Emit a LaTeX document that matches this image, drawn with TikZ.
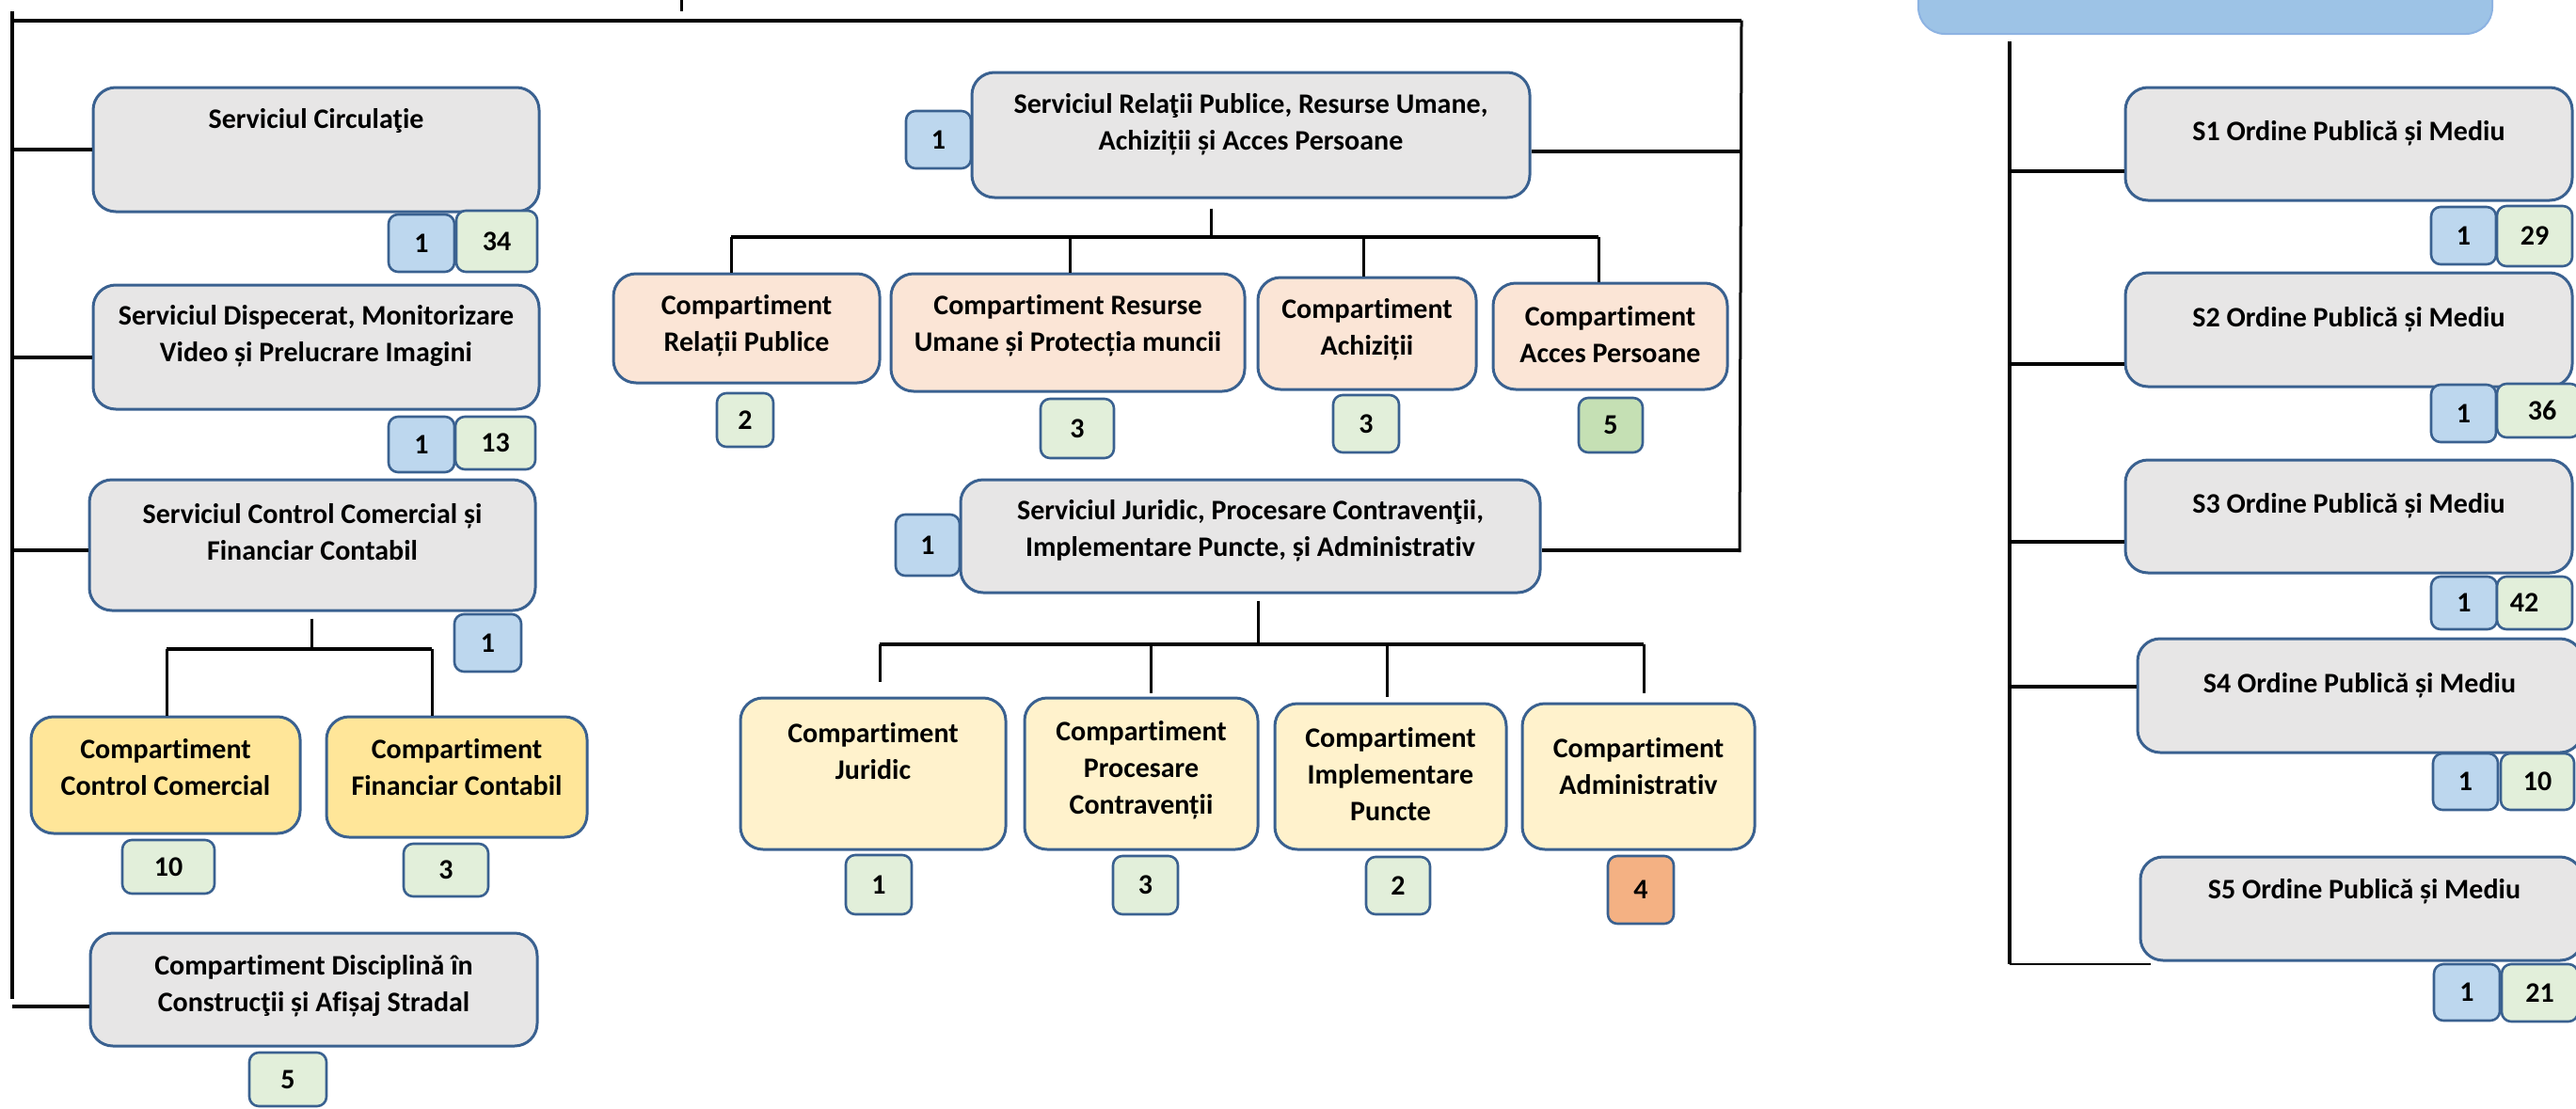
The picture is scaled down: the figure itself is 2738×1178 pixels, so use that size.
\documentclass[tikz,border=0pt]{standalone}
\usepackage{fontspec}
\setmainfont[Ligatures=NoCommon]{Carlito}
\usetikzlibrary{calc}
\definecolor{edge}{HTML}{3A6190}
\definecolor{grayfill}{HTML}{E7E6E6}
\definecolor{bluefill}{HTML}{BDD7EE}
\definecolor{greenfill}{HTML}{E2EFDA}
\definecolor{greendark}{HTML}{C5E0B4}
\definecolor{orangefill}{HTML}{F4B183}
\definecolor{peachfill}{HTML}{FBE5D6}
\definecolor{yellowfill}{HTML}{FFE699}
\definecolor{creamfill}{HTML}{FFF2CC}
\definecolor{headfill}{HTML}{9DC3E6}
\definecolor{headedge}{HTML}{8DB3E2}
\begin{document}
\begin{tikzpicture}[x=1pt,y=-1pt,
  box/.style={draw=edge, line width=3pt, rounded corners=24pt, inner sep=0pt},
  numbox/.style={draw=edge, line width=2.6pt, rounded corners=10pt, inner sep=0pt,
    font=\fontsize{30}{36}\selectfont\bfseries},
  txt/.style={font=\fontsize{30}{39}\selectfont\bfseries, align=center, inner sep=0pt},
  conn/.style={line width=4pt, black},
  subconn/.style={line width=3pt, black},
  bar/.style={line width=4.5pt, black}]
\useasboundingbox (0,0) rectangle (2738,1178);

% ---------- left column ----------
\node[box, fill=grayfill, minimum width=474pt, minimum height=132pt] (circ) at (336,159) {};
\node[txt] (circT) at (336,128) {Serviciul Circula\c{t}ie};
\node[numbox, fill=bluefill, minimum width=70pt, minimum height=61pt] (circA) at (448,258.5) {1};
\node[numbox, fill=greenfill, minimum width=86pt, minimum height=65pt] (circB) at (528,256.5) {34};

\node[box, fill=grayfill, minimum width=474pt, minimum height=132pt] (disp) at (336,369) {};
\node[txt] (dispT) at (336,357.5) {Serviciul Dispecerat, Monitorizare\\Video și Prelucrare Imagini};
\node[numbox, fill=bluefill, minimum width=70pt, minimum height=59pt] (dispA) at (448,472.5) {1};
\node[numbox, fill=greenfill, minimum width=85pt, minimum height=56pt] (dispB) at (526.5,471) {13};

\node[box, fill=grayfill, minimum width=474pt, minimum height=139pt] (ctrl) at (332,579.5) {};
\node[txt] (ctrlT) at (332,566) {Serviciul Control Comercial și\\Financiar Contabil};
\node[numbox, fill=bluefill, minimum width=71pt, minimum height=61pt] (ctrlA) at (518.5,683.5) {1};

\node[box, fill=yellowfill, minimum width=286pt, minimum height=124pt] (ccom) at (176,824) {};
\node[txt] (ccomT) at (176,816) {Compartiment\\Control Comercial};
\node[box, fill=yellowfill, minimum width=277pt, minimum height=128pt] (cfin) at (485.5,826) {};
\node[txt] (cfinT) at (485.5,816) {Compartiment\\Financiar Contabil};
\node[numbox, fill=greenfill, minimum width=98pt, minimum height=57pt] (ccomN) at (179,921.5) {10};
\node[numbox, fill=greenfill, minimum width=90pt, minimum height=56pt] (cfinN) at (474,925) {3};

\node[box, fill=grayfill, minimum width=475pt, minimum height=120pt] (disc) at (333.5,1052) {};
\node[txt] (discT) at (333.5,1048) {Compartiment Disciplină în\\Construc\c{t}ii și Afișaj Stradal};
\node[numbox, fill=greenfill, minimum width=82pt, minimum height=57pt] (discN) at (306,1147.5) {5};

% ---------- middle ----------
\node[box, fill=grayfill, minimum width=593pt, minimum height=133pt] (rel) at (1329.5,143.5) {};
\node[txt] (relT) at (1329.5,132.5) {Serviciul Rela\c{t}ii Publice, Resurse Umane,\\Achiziții și Acces Persoane};
\node[numbox, fill=bluefill, minimum width=69pt, minimum height=61pt] (relA) at (997.5,148.5) {1};

\node[box, fill=peachfill, minimum width=283pt, minimum height=116pt] (crp) at (793.5,349) {};
\node[txt] (crpT) at (793.5,346) {Compartiment\\Relații Publice};
\node[box, fill=peachfill, minimum width=376pt, minimum height=125pt] (cru) at (1135,353.5) {};
\node[txt] (cruT) at (1135,346.5) {Compartiment Resurse\\Umane și Protecția muncii};
\node[box, fill=peachfill, minimum width=232pt, minimum height=119pt] (cac) at (1453,354.5) {};
\node[txt] (cacT) at (1453,350) {Compartiment\\Achiziții};
\node[box, fill=peachfill, minimum width=249pt, minimum height=113pt] (cap) at (1711.5,357.5) {};
\node[txt] (capT) at (1711.5,356) {Compartiment\\Acces Persoane};
\node[numbox, fill=greenfill, minimum width=60pt, minimum height=57pt] (crpN) at (792,446.5) {2};
\node[numbox, fill=greenfill, minimum width=78pt, minimum height=63pt] (cruN) at (1145,455.5) {3};
\node[numbox, fill=greenfill, minimum width=70pt, minimum height=61pt] (cacN) at (1452,450.5) {3};
\node[numbox, fill=greendark, minimum width=68pt, minimum height=58pt] (capN) at (1712,452) {5};

\node[box, fill=grayfill, minimum width=616pt, minimum height=120pt] (jur) at (1329,570) {};
\node[txt] (jurT) at (1329,564) {Serviciul Juridic, Procesare Contraven\c{t}ii,\\Implementare Puncte, și Administrativ};
\node[numbox, fill=bluefill, minimum width=68pt, minimum height=65pt] (jurA) at (986,579.5) {1};

\node[box, fill=creamfill, minimum width=282pt, minimum height=161pt] (cj) at (928,822.5) {};
\node[txt] (cjT) at (928,799) {Compartiment\\Juridic};
\node[box, fill=creamfill, minimum width=248pt, minimum height=161pt] (cpc) at (1213,822.5) {};
\node[txt] (cpcT) at (1213,818.5) {Compartiment\\Procesare\\Contravenții};
\node[box, fill=creamfill, minimum width=246pt, minimum height=155pt] (cim) at (1478,825.5) {};
\node[txt] (cimT) at (1478,823.5) {Compartiment\\Implementare\\Puncte};
\node[box, fill=creamfill, minimum width=247pt, minimum height=155pt] (cad) at (1741.5,825.5) {};
\node[txt] (cadT) at (1741.5,815) {Compartiment\\Administrativ};
\node[numbox, fill=greenfill, minimum width=70pt, minimum height=63pt] (cjN) at (934,940.5) {1};
\node[numbox, fill=greenfill, minimum width=69pt, minimum height=62pt] (cpcN) at (1217.5,941) {3};
\node[numbox, fill=greenfill, minimum width=68pt, minimum height=61pt] (cimN) at (1486,941.5) {2};
\node[numbox, fill=orangefill, minimum width=70pt, minimum height=72pt] (cadN) at (1744,946) {4};

% ---------- right column ----------
\node[draw=headedge, line width=2pt, fill=headfill, rounded corners=28pt, inner sep=0pt,
      minimum width=610pt, minimum height=110pt] (head) at (2344,-19) {};
\node[box, fill=grayfill, minimum width=475pt, minimum height=120pt] (s1) at (2496.5,153) {};
\node[txt] (s1T) at (2496.5,142) {S1 Ordine Publică și Mediu};
\node[numbox, fill=bluefill, minimum width=69pt, minimum height=61pt] (s1A) at (2618.5,250.5) {1};
\node[numbox, fill=greenfill, minimum width=80pt, minimum height=64pt] (s1B) at (2694,251) {29};
\node[box, fill=grayfill, minimum width=475pt, minimum height=121pt] (s2) at (2496.5,350.5) {};
\node[txt] (s2T) at (2496.5,340) {S2 Ordine Publică și Mediu};
\node[numbox, fill=bluefill, minimum width=69pt, minimum height=61pt] (s2A) at (2618.5,439.5) {1};
\node[numbox, fill=greenfill, minimum width=88pt, minimum height=57pt] (s2B) at (2698,436.5) {\hspace*{8pt}36};
\node[box, fill=grayfill, minimum width=475pt, minimum height=120pt] (s3) at (2496.5,549) {};
\node[txt] (s3T) at (2496.5,538) {S3 Ordine Publică și Mediu};
\node[numbox, fill=bluefill, minimum width=70pt, minimum height=56pt] (s3A) at (2619,641) {1};
\node[numbox, fill=greenfill, minimum width=80pt, minimum height=56pt] (s3B) at (2694,641) {42\hspace*{22pt}};
\node[box, fill=grayfill, minimum width=473pt, minimum height=121pt] (s4) at (2508.5,739.5) {};
\node[txt] (s4T) at (2508,729) {S4 Ordine Publică și Mediu};
\node[numbox, fill=bluefill, minimum width=69pt, minimum height=60pt] (s4A) at (2620.5,831) {1};
\node[numbox, fill=greenfill, minimum width=78pt, minimum height=60pt] (s4B) at (2697,831) {10};
\node[box, fill=grayfill, minimum width=470pt, minimum height=110pt] (s5) at (2510,966) {};
\node[txt] (s5T) at (2513,948) {S5 Ordine Publică și Mediu};
\node[numbox, fill=bluefill, minimum width=70pt, minimum height=60pt] (s5A) at (2622,1055) {1};
\node[numbox, fill=greenfill, minimum width=81pt, minimum height=61pt] (s5B) at (2699.5,1055.5) {21};

% ---------- connectors ----------
\coordinate (topstubA) at (724,0);
\coordinate (topstubB) at (724,12);
\coordinate (Ltop) at (12.5,12);
\coordinate (Lbot) at (12.5,1062);
\coordinate (Rtop) at (1851,21.5);
\coordinate (Rbot) at (1849,587);
\draw[line width=3pt] (topstubA) -- (topstubB);
\draw[conn] (Ltop) -- (Lbot);
\draw[conn] (Ltop |- Rtop) -- (Rtop);
\draw[line width=3pt] (Rtop) -- (Rbot);
\draw[conn] (circ.west) -- (circ.west -| Ltop);
\draw[conn] ($(disp.west)+(0,11)$) -- ($(disp.west -| Ltop)+(0,11)$);
\draw[conn] ($(ctrl.west)+(0,5.5)$) -- ($(ctrl.west -| Ltop)+(0,5.5)$);
\draw[conn] ($(disc.west)+(0,18)$) -- ($(disc.west -| Ltop)+(0,18)$);
\draw[conn] ($(rel.east)+(0,17.5)$) -- ($(rel.east -| Rtop)+(0,17.5)$);
\draw[conn] ($(jur.east)+(0,15)$) -- ($(jur.east -| Rbot)+(0,15)$);

% control subtree
\coordinate (cbar) at (331,690);
\coordinate (cbL) at (177,690);
\coordinate (cbR) at (459,690);
\draw[subconn] ($(ctrl.south)+(-1,7)$) -- (cbar);
\draw[bar] (cbL) -- (cbR);
\draw[subconn] (cbL) -- (cbL |- ccom.north);
\draw[subconn] (cbR) -- (cbR |- cfin.north);

% relatii subtree
\coordinate (rbar) at (1287,252);
\coordinate (rb1) at (777,252);
\coordinate (rb2) at (1137,252);
\coordinate (rb3) at (1449,252);
\coordinate (rb4) at (1699,252);
\draw[subconn] ($(rel.south)+(-42.5,10)$) -- (rbar);
\draw[bar] (rb1) -- (rb4);
\draw[subconn] (rb1) -- (rb1 |- crp.north);
\draw[subconn] (rb2) -- (rb2 |- cru.north);
\draw[subconn] (rb3) -- (rb3 |- cac.north);
\draw[subconn] (rb4) -- (rb4 |- cap.north);

% juridic subtree
\coordinate (jbar) at (1337,685);
\coordinate (jb1) at (935,685);
\coordinate (jb2) at (1223,685);
\coordinate (jb3) at (1474,685);
\coordinate (jb4) at (1747,685);
\draw[subconn] ($(jur.south)+(8,7)$) -- (jbar);
\draw[bar] (jb1) -- (jb4);
\draw[subconn] (jb1) -- ($(jb1 |- cj.north)+(0,-16)$);
\draw[subconn] (jb2) -- ($(jb2 |- cpc.north)+(0,-4)$);
\draw[subconn] (jb3) -- ($(jb3 |- cim.north)+(0,-6)$);
\draw[subconn] (jb4) -- ($(jb4 |- cad.north)+(0,-10)$);

% right tree
\coordinate (Stop) at (2136,44);
\coordinate (Sbot) at (2136,1025);
\coordinate (Send) at (2286,1025);
\draw[conn] (Stop) -- (Sbot);
\draw[line width=2pt] (Sbot) -- (Send);
\draw[conn] ($(s1.west)+(0,29)$) -- ($(s1.west -| Stop)+(0,29)$);
\draw[conn] ($(s2.west)+(0,36.5)$) -- ($(s2.west -| Stop)+(0,36.5)$);
\draw[conn] ($(s3.west)+(0,27)$) -- ($(s3.west -| Stop)+(0,27)$);
\draw[conn] ($(s4.west)+(0,-9.5)$) -- ($(s4.west -| Stop)+(0,-9.5)$);
\end{tikzpicture}
\end{document}
